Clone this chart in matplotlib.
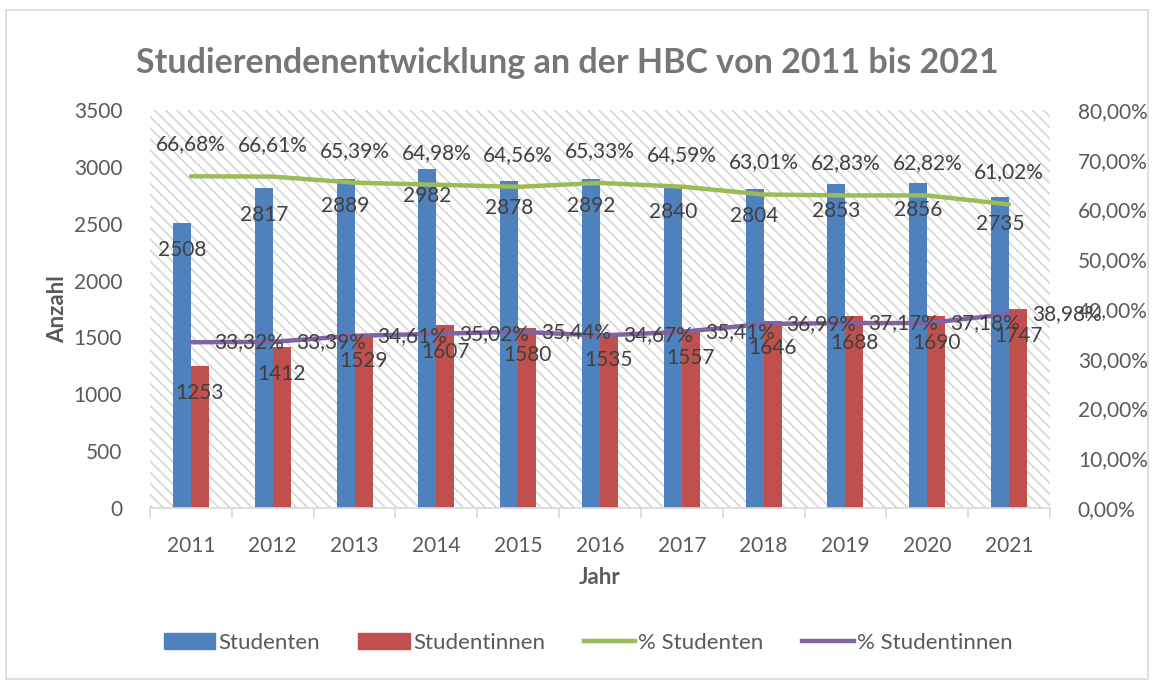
import matplotlib
matplotlib.use("Agg")
import matplotlib.pyplot as plt
from matplotlib.patches import Rectangle, Patch
from matplotlib.lines import Line2D
from matplotlib.ticker import FixedLocator, FuncFormatter

years = ["2011", "2012", "2013", "2014", "2015", "2016", "2017", "2018", "2019", "2020", "2021"]
studenten = [2508, 2817, 2889, 2982, 2878, 2892, 2840, 2804, 2853, 2856, 2735]
studentinnen = [1253, 1412, 1529, 1607, 1580, 1535, 1557, 1646, 1688, 1690, 1747]
pct_studenten = [66.68, 66.61, 65.39, 64.98, 64.56, 65.33, 64.59, 63.01, 62.83, 62.82, 61.02]
pct_studentinnen = [33.32, 33.39, 34.61, 35.02, 35.44, 34.67, 35.41, 36.99, 37.17, 37.18, 38.98]

BLUE = "#4F81BD"
RED = "#C0504D"
GREEN = "#9BBB59"
PURPLE = "#8064A2"
TXT = "#404040"
TICK = "#595959"

plt.rcParams["font.family"] = ["Lato", "DejaVu Sans"]
plt.rcParams["hatch.linewidth"] = 1.2
plt.rcParams["hatch.color"] = "#d6d6d6"

fig = plt.figure(figsize=(11.55, 6.81), dpi=100)
ax = fig.add_axes([150 / 1155, 1 - 508 / 681, 900 / 1155, 398 / 681])
ax2 = ax.twinx()

# frame round the whole chart
fig.patches.append(Rectangle((6 / 1155, 2 / 681), 1142 / 1155, 669 / 681, transform=fig.transFigure,
                             fill=False, edgecolor="#d9d9d9", linewidth=1.2))

# hatched plot area
ax.add_patch(Rectangle((0, 0), 1, 1, transform=ax.transAxes, facecolor="white",
                       edgecolor="#d6d6d6", hatch="\\\\\\", linewidth=0, zorder=0))

x = list(range(len(years)))
w = 0.22
xb = [i - w / 2 for i in x]
xr = [i + w / 2 for i in x]
ax.bar(xb, studenten, width=w, color=BLUE, zorder=2)
ax.bar(xr, studentinnen, width=w, color=RED, zorder=2)

ax.set_xlim(-0.5, len(years) - 0.5)
ax.set_ylim(0, 3500)
ax.set_yticks(range(0, 3501, 500))
ax.set_xticks(x)
ax.set_xticklabels(years)
ax.xaxis.set_minor_locator(FixedLocator([i + 0.5 for i in range(-1, len(years))]))
ax.tick_params(axis="x", which="major", length=0, pad=20, labelsize=15, labelcolor=TICK)
ax.tick_params(axis="x", which="minor", length=7, color="#d9d9d9", width=1.2)
ax.tick_params(axis="y", length=0, pad=20, labelsize=15, labelcolor=TICK)
for s in ["top", "left", "right"]:
    ax.spines[s].set_visible(False)
ax.spines["bottom"].set_color("#d9d9d9")
ax.spines["bottom"].set_linewidth(1.2)

ax2.plot(x, pct_studenten, color=GREEN, linewidth=3.2, solid_capstyle="round", zorder=3)
ax2.plot(x, pct_studentinnen, color=PURPLE, linewidth=3.2, solid_capstyle="round", zorder=3)
ax2.set_ylim(0, 80)
ax2.set_yticks(range(0, 81, 10))
ax2.yaxis.set_major_formatter(FuncFormatter(lambda v, p: f"{v:.2f}%".replace(".", ",")))
ax2.tick_params(axis="y", length=0, pad=20, labelsize=15, labelcolor=TICK)
for s in ["top", "left", "right", "bottom"]:
    ax2.spines[s].set_visible(False)

# data labels
for i in x:
    ax.annotate(str(studenten[i]), (xb[i], studenten[i]), xytext=(0, -27), textcoords="offset pixels",
                ha="center", va="center", fontsize=15, color=TXT, zorder=5)
    ax.annotate(str(studentinnen[i]), (xr[i], studentinnen[i]), xytext=(0, -27), textcoords="offset pixels",
                ha="center", va="center", fontsize=15, color=TXT, zorder=5)
    ax2.annotate(f"{pct_studenten[i]:.2f}%".replace(".", ","), (i, pct_studenten[i]), xytext=(0, 32),
                 textcoords="offset pixels", ha="center", va="center", fontsize=15, color=TXT, zorder=5)
    ax2.annotate(f"{pct_studentinnen[i]:.2f}%".replace(".", ","), (i, pct_studentinnen[i]), xytext=(23, 0),
                 textcoords="offset pixels", ha="left", va="center", fontsize=15, color=TXT, zorder=5)

ax.set_ylabel("Anzahl", fontsize=16, fontweight="bold", color=TICK, labelpad=4)
ax.set_xlabel("Jahr", fontsize=16, fontweight="bold", color=TICK, labelpad=8)

fig.text(567 / 1155, 1 - 63 / 681, "Studierendenentwicklung an der HBC von 2011 bis 2021",
         ha="center", va="center", fontsize=24.5, fontweight="bold", color="#767676")

handles = [Patch(color=BLUE), Patch(color=RED),
           Line2D([], [], color=GREEN, linewidth=3.2),
           Line2D([], [], color=PURPLE, linewidth=3.2)]
labels = ["Studenten", "Studentinnen", "% Studenten", "% Studentinnen"]
fig.legend(handles, labels, loc="center", bbox_to_anchor=(588 / 1155, 1 - 643 / 681), ncol=4,
           frameon=False, fontsize=16, labelcolor=TICK, handlelength=2.3, handleheight=0.7,
           handletextpad=0.15, columnspacing=1.75)

fig.savefig("out.png", dpi=100, facecolor="white")
